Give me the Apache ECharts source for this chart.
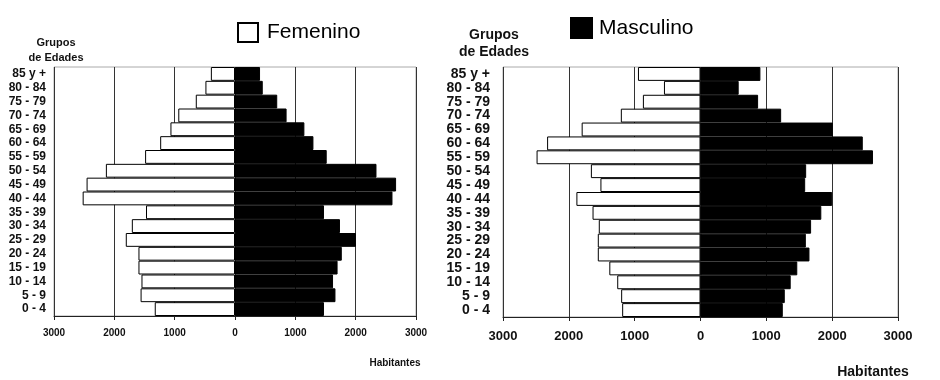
<!DOCTYPE html>
<html><head><meta charset="utf-8">
<script src="https://cdn.jsdelivr.net/npm/echarts@6/dist/echarts.min.js"></script>
<style>html,body{margin:0;padding:0;background:#fff}#c{width:940px;height:380px}</style>
</head><body><div id="c"></div>
<script>
const categories = ['0 - 4','5 - 9','10 - 14','15 - 19','20 - 24','25 - 29','30 - 34','35 - 39','40 - 44','45 - 49','50 - 54','55 - 59','60 - 64','65 - 69','70 - 74','75 - 79','80 - 84','85 y +'];
// Left pyramid
const leftFem = [1330,1565,1550,1600,1600,1810,1710,1475,2525,2460,2140,1490,1240,1070,940,650,490,400];
const leftMas = [1475,1665,1625,1700,1770,2005,1740,1475,2610,2670,2345,1520,1300,1150,855,700,460,415];
// Right pyramid
const rightFem = [1190,1205,1265,1385,1560,1560,1545,1640,1885,1520,1665,2490,2330,1805,1210,875,555,950];
const rightMas = [1250,1280,1370,1470,1655,1600,1680,1835,2000,1590,1605,2620,2465,2010,1225,875,580,910];
const xTicks = [-3000,-2000,-1000,0,1000,2000,3000];

const F = 'Liberation Sans, Arial, sans-serif';
const neg = a => a.map(v => -v);

function xAxisCfg(gi, fs, margin){
  return {
    gridIndex: gi, type:'value', min:-3000, max:3000, interval:1000,
    axisLine:{show:true, lineStyle:{color:'#222', width:1}},
    axisTick:{show:true, length:4, lineStyle:{color:'#222'}},
    axisLabel:{fontFamily:F, fontWeight:'bold', fontSize:fs, color:'#111', margin:margin,
      formatter: v => String(Math.abs(v))},
    splitLine:{show:true, lineStyle:{color:'#333', width:1}}
  };
}
function yAxisCfg(gi, fs, margin){
  return {
    gridIndex: gi, type:'category', data: categories,
    axisLine:{show:false}, axisTick:{show:false},
    axisLabel:{fontFamily:F, fontWeight:'bold', fontSize:fs, color:'#111', margin:margin, interval:0},
    splitLine:{show:false}
  };
}
function bar(name, data, gi, color, st){
  return {
    name, type:'bar', xAxisIndex:gi, yAxisIndex:gi, stack:st, data,
    barCategoryGap:'0%', barWidth:'100%',
    itemStyle:{color:color, borderColor:'#000', borderWidth:1},
    emphasis:{disabled:true}, z:3
  };
}

const chart = echarts.init(document.getElementById('c'), null, {renderer:'canvas'});
chart.setOption({
  animation:false,
  backgroundColor:'#fff',
  grid:[
    {left:54, right:524, top:67, bottom:64, show:true, borderColor:'#aaa', borderWidth:1},
    {left:503, right:42, top:67, bottom:63, show:true, borderColor:'#aaa', borderWidth:1}
  ],
  xAxis:[xAxisCfg(0,10,12), xAxisCfg(1,13,13)],
  yAxis:[yAxisCfg(0,12,8), yAxisCfg(1,14,13)],
  legend:[
    {data:['Femenino'], left:232, top:17, itemWidth:20, itemHeight:19, itemGap:0,
     icon:'rect', textStyle:{fontFamily:F, fontSize:21, color:'#000', padding:[0,0,0,4]},
     selectedMode:false},
    {data:['Masculino'], left:565, top:12, itemWidth:21, itemHeight:20, itemGap:0,
     icon:'rect', textStyle:{fontFamily:F, fontSize:21, color:'#000', padding:[0,0,0,2]},
     selectedMode:false}
  ],
  graphic:[
    {type:'text', style:{text:'Grupos', x:56, y:43, fill:'#111', font:'bold 11px '+F, textAlign:'center', textVerticalAlign:'middle'}},
    {type:'text', style:{text:'de Edades', x:56, y:58, fill:'#111', font:'bold 11px '+F, textAlign:'center', textVerticalAlign:'middle'}},
    {type:'text', style:{text:'Grupos', x:494, y:35, fill:'#111', font:'bold 14px '+F, textAlign:'center', textVerticalAlign:'middle'}},
    {type:'text', style:{text:'de Edades', x:494, y:52, fill:'#111', font:'bold 14px '+F, textAlign:'center', textVerticalAlign:'middle'}},
    {type:'text', style:{text:'Habitantes', x:395, y:363, fill:'#111', font:'bold 10px '+F, textAlign:'center', textVerticalAlign:'middle'}},
    {type:'text', style:{text:'Habitantes', x:873, y:372, fill:'#111', font:'bold 14px '+F, textAlign:'center', textVerticalAlign:'middle'}}
  ],
  series:[
    bar('Femenino', neg(leftFem), 0, '#fff', 'l'),
    bar('Masculino', leftMas, 0, '#000', 'l'),
    bar('Femenino', neg(rightFem), 1, '#fff', 'r'),
    bar('Masculino', rightMas, 1, '#000', 'r')
  ]
});
</script></body></html>
